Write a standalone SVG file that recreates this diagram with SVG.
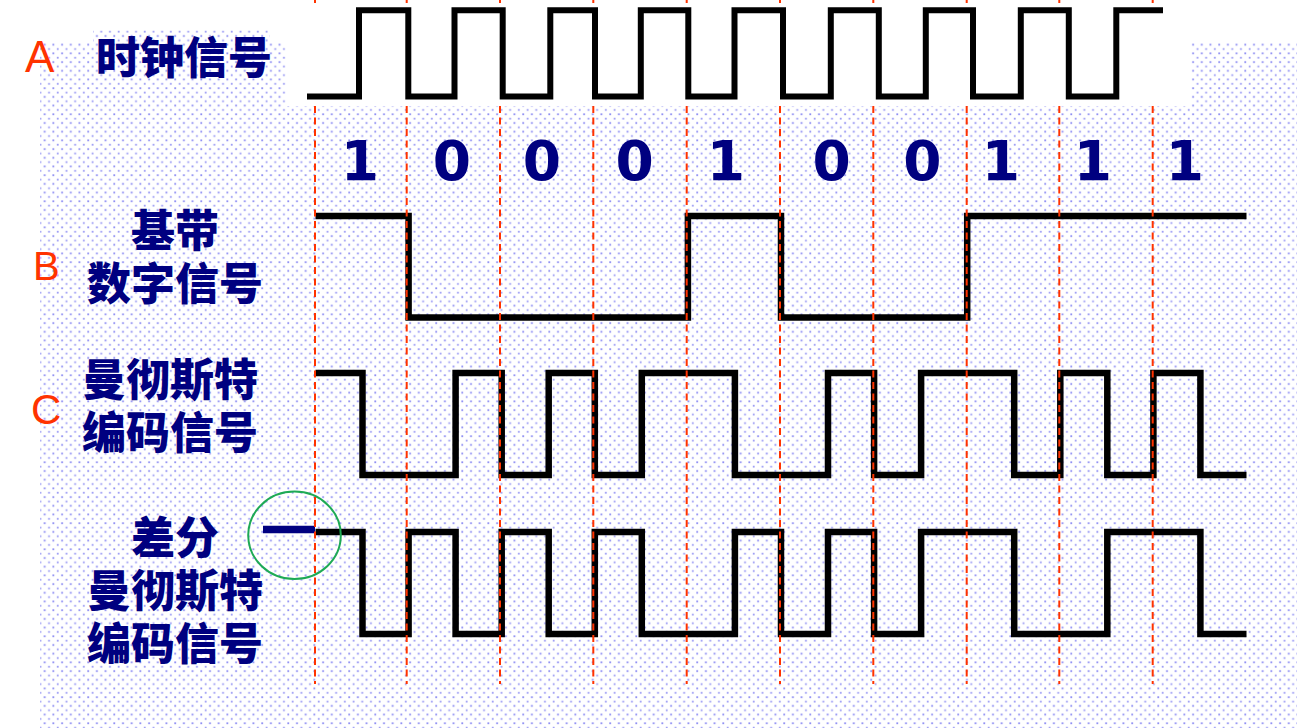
<svg xmlns="http://www.w3.org/2000/svg" width="1308" height="728" viewBox="0 0 1308 728">
  <defs>
    <pattern id="dots" x="0" y="0" width="8.7" height="8.7" patternUnits="userSpaceOnUse">
      <rect x="0.3" y="0.3" width="1.8" height="1.8" fill="#8c8cf2"/>
      <rect x="4.65" y="4.65" width="1.8" height="1.8" fill="#9c9cf4"/>
    </pattern>
    <style>
      .wave { fill: none; stroke: #000; stroke-width: 6.5; stroke-linejoin: miter; stroke-linecap: butt; }
      .clk { fill: none; stroke: #000; stroke-width: 6; stroke-linejoin: miter; stroke-linecap: butt; }
      .guide { stroke: #ff3300; stroke-width: 2; stroke-dasharray: 7 4.5; fill: none; }
      .tick { stroke: #ff3300; stroke-width: 2; }
      .lbl { font-family: "Noto Sans CJK SC", "Noto Sans", sans-serif; font-weight: 900; font-size: 44px; fill: #000080; text-anchor: middle; }
      .letter { font-family: "Liberation Sans", Arial, sans-serif; fill: #ff3300; }
      .bit { font-family: "DejaVu Sans", Verdana, sans-serif; font-weight: bold; font-size: 55px; fill: #000080; text-anchor: middle; }
    </style>
  </defs>

  <rect width="1308" height="728" fill="#ffffff"/>

  <g id="background">
    <rect x="40" y="106" width="1257" height="622" fill="url(#dots)"/>
    <rect x="40" y="43" width="246" height="63" fill="url(#dots)"/>
    <rect x="93" y="30" width="177" height="13" fill="url(#dots)"/>
    <rect x="1191" y="43" width="106" height="63" fill="url(#dots)"/>
  </g>

  <g id="letters">
    <text class="letter" x="25" y="71.5" font-size="44">A</text>
    <text class="letter" x="33" y="280" font-size="40">B</text>
    <text class="letter" x="31" y="424" font-size="42">C</text>
  </g>

  <g id="label-clock">
    <text class="lbl" x="184" y="74">时钟信号</text>
  </g>
  <g id="label-baseband">
    <text class="lbl" x="175" y="247">基带<tspan x="175" dy="53">数字信号</tspan></text>
  </g>
  <g id="label-manchester">
    <text class="lbl" x="170" y="396">曼彻斯特<tspan x="170" dy="53">编码信号</tspan></text>
  </g>
  <g id="label-diff">
    <text class="lbl" x="175" y="554">差分<tspan x="175" dy="53">曼彻斯特</tspan><tspan x="175" dy="53">编码信号</tspan></text>
  </g>

  <g id="bits">
    <text class="bit" x="360" y="180">1</text>
    <text class="bit" x="452" y="180">0</text>
    <text class="bit" x="542" y="180">0</text>
    <text class="bit" x="634.7" y="180">0</text>
    <text class="bit" x="725.8" y="180">1</text>
    <text class="bit" x="831.7" y="180">0</text>
    <text class="bit" x="922.5" y="180">0</text>
    <text class="bit" x="1001" y="180">1</text>
    <text class="bit" x="1093" y="180">1</text>
    <text class="bit" x="1185" y="180">1</text>
  </g>

  <g id="clock-signal">
    <path class="clk" d="M307,96.5 H359 V10.3 H408.3 V96.5 H454.5 V10.3 H502.7 V96.5 H550.3 V10.3 H595 V96.5 H640.8 V10.3 H688.3 V96.5 H734.5 V10.3 H783 V96.5 H830.8 V10.3 H878.8 V96.5 H925.8 V10.3 H973 V96.5 H1020.8 V10.3 H1068.8 V96.5 H1116.3 V10.3 H1163"/>
  </g>

  <g id="baseband-signal">
    <path class="wave" d="M315.5,216 H408.6 V317.5 H687.9 V216 H781 V317.5 H967.2 V216 H1246.5"/>
  </g>

  <g id="manchester-signal">
    <path class="wave" d="M315.5,373 H362.5 V475 H455.6 V373 H501.7 V475 H548.7 V373 H594.8 V475 H641.8 V373 H734.9 V475 H828 V373 H874.1 V475 H921.1 V373 H1014.2 V475 H1060.3 V373 H1107.3 V475 H1153.4 V373 H1200.4 V475 H1246.5"/>
  </g>

  <g id="diff-manchester-signal">
    <line x1="263" y1="529.5" x2="315" y2="529.5" stroke="#000080" stroke-width="7.5"/>
    <path class="wave" d="M315.5,532 H362.5 V634 H408.6 V532 H455.6 V634 H501.7 V532 H548.7 V634 H594.8 V532 H641.8 V634 H734.9 V532 H781 V634 H828 V532 H874.1 V634 H921.1 V532 H1014.2 V634 H1107.3 V532 H1200.4 V634 H1246.5"/>
    <ellipse cx="294.5" cy="535.3" rx="46.3" ry="43.7" fill="none" stroke="#1eaa55" stroke-width="2"/>
  </g>

  <g id="connectors">
    <path class="guide" d="M315,106 V684 M406.7,106 V684 M500,106 V684 M593.3,106 V684 M686.7,106 V684 M780,106 V684 M873.3,106 V684 M966.7,106 V684 M1059.3,106 V684 M1152.7,106 V684"/>
    <path class="tick" d="M315,0 V3 M406.7,0 V3 M500,0 V3 M593.3,0 V3 M686.7,0 V3 M780,0 V3 M873.3,0 V3 M966.7,0 V3 M1059.3,0 V3 M1152.7,0 V3"/>
  </g>
</svg>
